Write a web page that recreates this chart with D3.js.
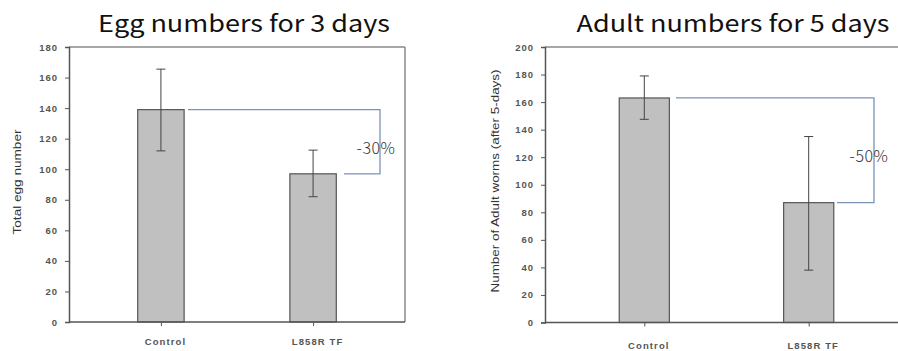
<!DOCTYPE html>
<html>
<head>
<meta charset="utf-8">
<script src="https://cdn.jsdelivr.net/npm/d3@7"></script>
<style>
  html, body { margin: 0; padding: 0; background: #fff; }
  svg { display: block; }
</style>
</head>
<body>
<svg id="chart" width="898" height="351"></svg>
<script>
// Groups shared by both panels
const categories = ["Control", "L858R TF"];

// Panel 1: eggs laid over 3 days
const eggMeans = [139, 97];
const eggUpper = [165.5, 112.5];
const eggLower = [112, 82];
const eggTicks = [0, 20, 40, 60, 80, 100, 120, 140, 160, 180];
const eggChange = "-30%";

// Panel 2: adults after 5 days
const adultMeans = [163, 87];
const adultUpper = [179, 135];
const adultLower = [147.5, 38];
const adultTicks = [0, 20, 40, 60, 80, 100, 120, 140, 160, 180, 200];
const adultChange = "-50%";

const svg = d3.select("#chart");
const W = 898;

const panels = [
  {
    title: "Egg numbers for 3 days", titleX: 244, titleLen: 292,
    yLabel: "Total egg number", yLabelX: 21, yLabelY: 182, yLabelLen: 105,
    means: eggMeans, upper: eggUpper, lower: eggLower, ticks: eggTicks, change: eggChange,
    left: 69, right: 405, top: 47, bottom: 322, yMax: 180, catY: 345,
    rightBorder: true,
    bracketX: 380, bracketStart: 188, bracketEnd: 344, changeX: 376
  },
  {
    title: "Adult numbers for 5 days", titleX: 733, titleLen: 313,
    yLabel: "Number of Adult worms (after 5-days)", yLabelX: 499, yLabelY: 181, yLabelLen: 223,
    means: adultMeans, upper: adultUpper, lower: adultLower, ticks: adultTicks, change: adultChange,
    left: 545, right: 908, top: 47, bottom: 322.5, yMax: 200, catY: 349,
    rightBorder: false,
    bracketX: 874, bracketStart: 676, bracketEnd: 837, changeX: 869
  }
];

const axisFont = "Liberation Sans, Arial, sans-serif";
const titleFont = "Noto Sans CJK KR, Noto Sans, sans-serif";

panels.forEach(p => {
  const g = svg.append("g");
  const edge = Math.min(p.right, W);

  const y = d3.scaleLinear().domain([0, p.yMax]).range([p.bottom, p.top]);
  const x = d3.scalePoint().domain(categories).range([p.left, p.right]).padding(0.604);
  const barW = x.step() * 0.305;

  // Frame: top border and optional right border
  g.append("line")
    .attr("x1", p.left).attr("x2", edge)
    .attr("y1", p.top).attr("y2", p.top)
    .attr("stroke", "#8a8a8a").attr("stroke-width", 1.5);
  if (p.rightBorder) {
    g.append("line")
      .attr("x1", p.right).attr("x2", p.right)
      .attr("y1", p.top).attr("y2", p.bottom)
      .attr("stroke", "#8a8a8a").attr("stroke-width", 1.5);
  }

  // Bars
  g.selectAll("rect.bar").data(categories).join("rect")
    .attr("class", "bar")
    .attr("x", d => x(d) - barW / 2)
    .attr("width", barW)
    .attr("y", (d, i) => y(p.means[i]))
    .attr("height", (d, i) => y(0) - y(p.means[i]))
    .attr("fill", "#c0c0c0")
    .attr("stroke", "#555")
    .attr("stroke-width", 1.2);

  // Error bars
  categories.forEach((c, i) => {
    const cx = x(c);
    g.append("line").attr("x1", cx).attr("x2", cx)
      .attr("y1", y(p.upper[i])).attr("y2", y(p.lower[i]))
      .attr("stroke", "#444").attr("stroke-width", 1);
    [p.upper[i], p.lower[i]].forEach(v => {
      g.append("line").attr("x1", cx - 4.5).attr("x2", cx + 4.5)
        .attr("y1", y(v)).attr("y2", y(v))
        .attr("stroke", "#444").attr("stroke-width", 1);
    });
  });

  // Y axis
  const yAxis = g.append("g")
    .attr("transform", `translate(${p.left},0)`)
    .call(d3.axisLeft(y).tickValues(p.ticks).tickSize(4).tickPadding(7));
  yAxis.select(".domain").attr("stroke", "#555").attr("stroke-width", 1.5);
  yAxis.selectAll(".tick line").attr("stroke", "#555");
  yAxis.selectAll(".tick text")
    .attr("font-family", axisFont)
    .attr("font-size", 9.5).attr("font-weight", "bold").attr("fill", "#555")
    .attr("letter-spacing", 1);

  // X axis
  const xAxis = g.append("g")
    .attr("transform", `translate(0,${p.bottom})`)
    .call(d3.axisBottom(x).tickSize(4).tickPadding(0));
  xAxis.select(".domain")
    .attr("d", `M${p.left},0H${edge}`)
    .attr("stroke", "#555").attr("stroke-width", 1.5);
  xAxis.selectAll(".tick line").attr("stroke", "#555");
  xAxis.selectAll(".tick text")
    .attr("dy", null)
    .attr("y", p.catY - p.bottom)
    .attr("dx", 4)
    .attr("font-family", axisFont)
    .attr("font-size", 9.5).attr("font-weight", "bold").attr("fill", "#555")
    .attr("letter-spacing", 1.1);

  // Y axis title
  g.append("text")
    .attr("transform", `translate(${p.yLabelX},${p.yLabelY}) rotate(-90)`)
    .attr("text-anchor", "middle")
    .attr("font-family", axisFont)
    .attr("font-size", 11).attr("fill", "#333")
    .attr("textLength", p.yLabelLen).attr("lengthAdjust", "spacingAndGlyphs")
    .text(p.yLabel);

  // Panel title
  g.append("text")
    .attr("x", p.titleX).attr("y", 32)
    .attr("text-anchor", "middle")
    .attr("font-family", titleFont)
    .attr("font-size", 23).attr("fill", "#111")
    .attr("textLength", p.titleLen).attr("lengthAdjust", "spacingAndGlyphs")
    .text(p.title);

  // Bracket showing the drop between the two groups
  const y0 = y(p.means[0]), y1 = y(p.means[1]);
  g.append("path")
    .attr("d", `M${p.bracketStart},${y0}H${p.bracketX}V${y1}H${p.bracketEnd}`)
    .attr("fill", "none").attr("stroke", "#7c93b8").attr("stroke-width", 1.3);

  g.append("text")
    .attr("x", p.changeX).attr("y", (y0 + y1) / 2 + 12)
    .attr("text-anchor", "middle")
    .attr("font-family", titleFont)
    .attr("font-size", 16).attr("font-weight", 300).attr("fill", "#333")
    .attr("letter-spacing", 0.5)
    .text(p.change);
});
</script>
</body>
</html>
